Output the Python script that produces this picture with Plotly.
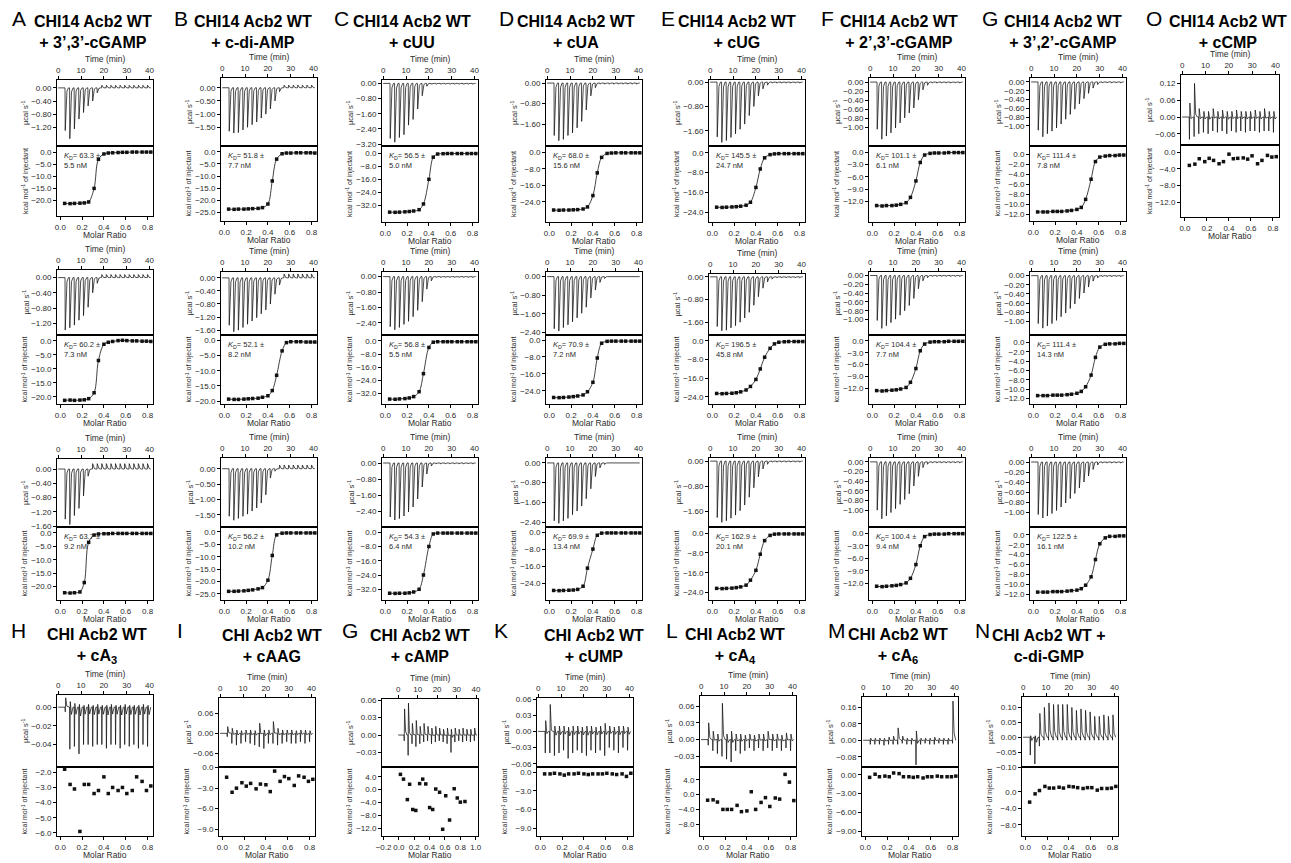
import plotly.graph_objects as go

W, H = 1291, 863

# ---------------- data ----------------
INJ_TIMES = [3, 5, 7, 9, 11, 13, 15, 17, 19, 21, 23, 25, 27, 29, 31, 33, 35, 37, 39]
MOLAR = [0.04, 0.09, 0.13, 0.18, 0.22, 0.26, 0.31, 0.35, 0.40, 0.44, 0.48, 0.53, 0.57, 0.61, 0.66, 0.70, 0.75, 0.79, 0.83]
CAMP_MOLAR = [0.02, 0.06, 0.11, 0.14, 0.18, 0.22, 0.27, 0.31, 0.35, 0.40, 0.44, 0.48, 0.53, 0.57, 0.61, 0.66, 0.72, 0.76, 0.80, 0.86]
TIME_TICKS = [0, 10, 20, 30, 40]
MOLAR_TICKS = [0.0, 0.2, 0.4, 0.6, 0.8]
CAMP_MOLAR_TICKS = [-0.2, 0.0, 0.2, 0.4, 0.6, 0.8, 1.0]

TOP_LETTERS = ["A", "B", "C", "D", "E", "F", "G", "O"]
TOP_LIGANDS = ["+ 3’,3’-cGAMP", "+ c-di-AMP", "+ cUU", "+ cUA", "+ cUG", "+ 2’,3’-cGAMP", "+ 3’,2’-cGAMP", "+ cCMP"]
BOTTOM_LETTERS = ["H", "I", "G", "K", "L", "M", "N"]
BOTTOM_TITLES = ["CHI Acb2 WT<br>+ cA<sub>3</sub>", "CHI Acb2 WT<br>+ cAAG", "CHI Acb2 WT<br>+ cAMP",
                 "CHI Acb2 WT<br>+ cUMP", "CHI Acb2 WT<br>+ cA<sub>4</sub>", "CHI Acb2 WT<br>+ cA<sub>6</sub>",
                 "CHI Acb2 WT +<br>c-di-GMP"]

# raw injection peaks (µcal/s)
A1_PEAKS = [-1.30, -1.55, -1.25, -0.95, -0.75, -0.55, -0.40, -0.15, 0.08, 0.08, 0.08, 0.08, 0.08, 0.08, 0.08, 0.08, 0.08, 0.08, 0.08]
A2_PEAKS = [-1.38, -1.32, -1.25, -1.12, -1.00, -0.78, -0.40, -0.15, 0.08, 0.08, 0.08, 0.08, 0.08, 0.08, 0.08, 0.08, 0.08, 0.08, 0.08]
A3_PEAKS = [-1.40, -1.55, -1.30, -1.10, -0.75, -0.20, 0.15, 0.15, 0.15, 0.15, 0.15, 0.15, 0.15, 0.15, 0.15, 0.15, 0.15, 0.15, 0.15]
B1_PEAKS = [-1.65, -1.72, -1.70, -1.60, -1.50, -1.40, -1.30, -1.15, -1.00, -0.80, -0.50, -0.15, 0.10, 0.10, 0.10, 0.10, 0.10, 0.10, 0.10]
B2_PEAKS = [-1.45, -1.65, -1.60, -1.52, -1.42, -1.32, -1.22, -1.10, -0.98, -0.80, -0.50, -0.22, 0.12, 0.12, 0.12, 0.12, 0.12, 0.12, 0.12]
B3_PEAKS = [-1.55, -1.68, -1.62, -1.55, -1.48, -1.38, -1.28, -1.12, -0.85, -0.30, -0.08, 0.12, 0.12, 0.12, 0.12, 0.12, 0.12, 0.12, 0.12]
C1_PEAKS = [-2.90, -3.10, -2.85, -2.70, -2.20, -1.90, -1.35, -0.65, -0.15, -0.04, -0.04, -0.04, -0.04, -0.04, -0.04, -0.04, -0.04, -0.04, -0.04]
C2_PEAKS = [-2.60, -2.76, -2.64, -2.48, -2.32, -2.08, -1.75, -1.30, -0.65, -0.22, -0.04, -0.04, -0.04, -0.04, -0.04, -0.04, -0.04, -0.04, -0.04]
C3_PEAKS = [-2.70, -2.85, -2.78, -2.65, -2.45, -2.20, -1.80, -1.20, -0.55, -0.15, -0.04, -0.04, -0.04, -0.04, -0.04, -0.04, -0.04, -0.04, -0.04]
D1_PEAKS = [-2.05, -2.25, -2.20, -2.05, -1.95, -1.75, -1.50, -1.05, -0.50, -0.18, -0.04, -0.04, -0.04, -0.04, -0.04, -0.04, -0.04, -0.04, -0.04]
D2_PEAKS = [-2.25, -2.35, -2.20, -2.08, -1.95, -1.78, -1.58, -1.32, -0.92, -0.58, -0.25, -0.08, -0.03, -0.03, -0.03, -0.03, -0.03, -0.03, -0.03]
D3_PEAKS = [-2.35, -2.45, -2.35, -2.25, -2.10, -1.95, -1.75, -1.45, -1.05, -0.55, -0.20, -0.06, -0.03, -0.03, -0.03, -0.03, -0.03, -0.03, -0.03]
E1_PEAKS = [-1.80, -1.98, -1.92, -1.82, -1.70, -1.55, -1.38, -1.10, -0.80, -0.45, -0.22, -0.10, -0.03, -0.03, -0.03, -0.03, -0.03, -0.03, -0.03]
E2_PEAKS = [-1.75, -1.90, -1.88, -1.80, -1.72, -1.60, -1.45, -1.25, -1.00, -0.70, -0.40, -0.18, -0.08, -0.03, -0.03, -0.03, -0.03, -0.03, -0.03]
E3_PEAKS = [-1.80, -1.95, -1.90, -1.82, -1.72, -1.58, -1.40, -1.15, -0.85, -0.50, -0.25, -0.10, -0.03, -0.03, -0.03, -0.03, -0.03, -0.03, -0.03]
F1_PEAKS = [-1.04, -1.26, -1.19, -1.12, -1.01, -0.90, -0.79, -0.68, -0.57, -0.39, -0.17, -0.07, -0.02, -0.02, -0.02, -0.02, -0.02, -0.02, -0.02]
F2_PEAKS = [-1.02, -1.20, -1.14, -1.07, -0.99, -0.90, -0.80, -0.68, -0.52, -0.30, -0.12, -0.05, -0.02, -0.02, -0.02, -0.02, -0.02, -0.02, -0.02]
F3_PEAKS = [-1.00, -1.18, -1.12, -1.05, -0.97, -0.88, -0.78, -0.66, -0.50, -0.30, -0.12, -0.05, -0.02, -0.02, -0.02, -0.02, -0.02, -0.02, -0.02]
G1_PEAKS = [-1.10, -1.25, -1.18, -1.12, -1.05, -0.96, -0.85, -0.74, -0.62, -0.50, -0.38, -0.26, -0.14, -0.06, -0.02, -0.02, -0.02, -0.02, -0.02]
G2_PEAKS = [-1.05, -1.15, -1.10, -1.05, -0.98, -0.90, -0.82, -0.72, -0.62, -0.50, -0.38, -0.25, -0.12, -0.05, -0.02, -0.02, -0.02, -0.02, -0.02]
G3_PEAKS = [-1.05, -1.12, -1.08, -1.03, -0.97, -0.90, -0.82, -0.73, -0.63, -0.52, -0.40, -0.28, -0.15, -0.06, -0.02, -0.02, -0.02, -0.02, -0.02]

# integrated heats (kcal/mol of injectant)
A1_HEAT = [-21.2, -21.3, -21.2, -21.1, -21.0, -20.6, -15.0, -3.0, -0.8, -0.4, -0.3, -0.2, -0.1, -0.1, 0.0, 0.0, 0.0, 0.0, 0.0]
A2_HEAT = [-21.2, -21.1, -21.2, -21.1, -21.0, -20.6, -18.5, -7.0, -1.2, -0.5, -0.2, 0.1, 0.2, 0.1, 0.0, 0.0, -0.1, -0.1, -0.2]
A3_HEAT = [-22.3, -22.4, -22.3, -22.0, -18.5, -3.5, -0.8, -0.4, -0.3, -0.3, -0.2, -0.2, -0.2, -0.2, -0.2, -0.2, -0.2, -0.2, -0.2]
B1_HEAT = [-23.6, -23.7, -23.6, -23.6, -23.5, -23.4, -23.3, -23.0, -21.5, -12.0, -3.0, -0.8, -0.5, -0.5, -0.4, -0.4, -0.4, -0.4, -0.5]
B2_HEAT = [-19.3, -19.4, -19.4, -19.3, -19.2, -19.1, -19.0, -18.7, -18.2, -16.5, -11.5, -3.5, -0.8, -0.5, -0.5, -0.5, -0.6, -0.6, -0.6]
B3_HEAT = [-24.0, -24.0, -23.9, -23.8, -23.6, -23.4, -23.0, -22.5, -19.5, -9.5, -1.2, -0.5, -0.4, -0.4, -0.4, -0.4, -0.4, -0.4, -0.4]
C1_HEAT = [-36.0, -36.1, -36.0, -35.8, -35.6, -35.3, -34.5, -31.0, -16.0, -2.5, -0.6, -0.4, -0.3, -0.3, -0.3, -0.3, -0.3, -0.3, -0.3]
C2_HEAT = [-35.5, -35.6, -35.4, -35.2, -34.8, -34.0, -31.0, -20.0, -4.0, -0.8, -0.5, -0.5, -0.5, -0.5, -0.5, -0.5, -0.5, -0.5, -0.5]
C3_HEAT = [-34.2, -34.3, -34.2, -34.2, -34.0, -33.5, -32.0, -24.0, -8.0, -1.0, -0.5, -0.5, -0.5, -0.5, -0.5, -0.5, -0.5, -0.5, -0.5]
D1_HEAT = [-28.0, -28.1, -28.0, -28.0, -27.9, -27.8, -27.5, -26.5, -21.0, -10.0, -2.5, -0.6, -0.4, -0.3, -0.3, -0.3, -0.3, -0.3, -0.3]
D2_HEAT = [-27.2, -27.3, -27.2, -27.0, -26.8, -26.5, -26.0, -24.5, -20.0, -8.5, -1.5, -0.6, -0.5, -0.5, -0.5, -0.5, -0.5, -0.5, -0.5]
D3_HEAT = [-27.5, -27.6, -27.5, -27.4, -27.3, -27.0, -25.5, -17.0, -8.0, -1.5, -0.5, -0.4, -0.4, -0.4, -0.4, -0.4, -0.4, -0.4, -0.4]
E1_HEAT = [-22.0, -22.1, -22.0, -21.9, -21.8, -21.6, -21.2, -20.0, -14.0, -6.5, -2.0, -0.7, -0.4, -0.3, -0.3, -0.3, -0.3, -0.3, -0.3]
E2_HEAT = [-22.5, -22.6, -22.5, -22.4, -22.2, -21.8, -21.0, -19.5, -16.5, -12.0, -7.0, -3.2, -1.3, -0.6, -0.4, -0.3, -0.3, -0.3, -0.3]
E3_HEAT = [-22.3, -22.4, -22.3, -22.2, -22.0, -21.7, -21.0, -19.0, -15.0, -8.5, -3.0, -0.9, -0.4, -0.3, -0.3, -0.3, -0.3, -0.3, -0.3]
F1_HEAT = [-13.0, -13.1, -13.0, -13.0, -12.9, -12.7, -12.3, -11.0, -7.0, -2.5, -0.7, -0.3, -0.2, -0.2, -0.2, -0.1, -0.1, -0.1, -0.1]
F2_HEAT = [-12.6, -12.7, -12.6, -12.5, -12.4, -12.2, -11.8, -10.5, -7.0, -2.5, -0.8, -0.3, -0.2, -0.2, -0.2, -0.1, -0.1, -0.1, -0.1]
F3_HEAT = [-12.7, -12.8, -12.7, -12.6, -12.5, -12.3, -11.9, -10.8, -7.5, -3.0, -0.8, -0.3, -0.2, -0.2, -0.2, -0.1, -0.1, -0.1, -0.1]
G1_HEAT = [-11.5, -11.5, -11.5, -11.4, -11.4, -11.4, -11.3, -11.2, -11.0, -10.6, -9.0, -5.0, -1.5, -0.6, -0.4, -0.3, -0.3, -0.2, -0.2]
G2_HEAT = [-11.4, -11.4, -11.4, -11.3, -11.3, -11.3, -11.2, -11.1, -10.9, -10.5, -9.5, -7.0, -3.2, -1.0, -0.4, -0.3, -0.3, -0.2, -0.2]
G3_HEAT = [-11.6, -11.6, -11.6, -11.5, -11.5, -11.5, -11.4, -11.3, -11.2, -10.9, -10.2, -8.5, -5.0, -1.8, -0.6, -0.3, -0.3, -0.2, -0.2]

KD = {
    "A1": ("63.3", "5.5"), "A2": ("60.2", "7.3"), "A3": ("63.7", "9.2"),
    "B1": ("51.8", "7.7"), "B2": ("52.1", "8.2"), "B3": ("56.2", "10.2"),
    "C1": ("56.5", "5.0"), "C2": ("56.8", "5.5"), "C3": ("54.3", "6.4"),
    "D1": ("68.0", "15.6"), "D2": ("70.9", "7.2"), "D3": ("69.9", "13.4"),
    "E1": ("145.5", "24.7"), "E2": ("196.5", "45.8"), "E3": ("162.9", "20.1"),
    "F1": ("101.1", "6.1"), "F2": ("104.4", "7.7"), "F3": ("100.4", "9.4"),
    "G1": ("111.4", "7.8"), "G2": ("111.4", "14.3"), "G3": ("122.5", "16.1"),
}

# non-binding panels: per-injection low / high excursions of raw trace
O_LO = [-0.08, -0.07, -0.06, -0.055, -0.06, -0.05, -0.055, -0.05, -0.06, -0.05, -0.055, -0.05, -0.055, -0.05, -0.05, -0.055, -0.05, -0.05, -0.055]
O_HI = [0.05, 0.12, 0.03, 0.02, 0.02, 0.03, 0.02, 0.025, 0.02, 0.02, 0.025, 0.02, 0.02, 0.02, 0.025, 0.02, 0.03, 0.02, 0.02]
O_HEAT = [-3.2, -2.9, -1.6, -2.3, -1.5, -2.0, -2.8, -2.3, -0.5, -1.6, -1.5, -1.4, -1.7, -0.9, -2.8, -2.0, -0.8, -1.2, -1.1]
H_LO = [-0.005, -0.045, -0.042, -0.050, -0.040, -0.040, -0.042, -0.040, -0.040, -0.044, -0.040, -0.040, -0.044, -0.040, -0.042, -0.040, -0.044, -0.040, -0.042]
H_HI = [0.010, 0.006, 0.004, 0.003, 0.002, 0.003, 0.002, 0.003, 0.002, 0.002, 0.003, 0.002, 0.002, 0.003, 0.002, 0.002, 0.002, 0.003, 0.002]
H_HEAT = [-1.8, -2.8, -3.1, -5.9, -2.8, -2.8, -3.4, -3.2, -2.3, -3.4, -3.0, -3.2, -3.0, -3.4, -3.2, -2.3, -2.6, -3.2, -2.9]
I_LO = [-0.01, -0.03, -0.035, -0.03, -0.025, -0.03, -0.035, -0.04, -0.045, -0.03, -0.03, -0.035, -0.03, -0.025, -0.03, -0.03, -0.025, -0.03, -0.025]
I_HI = [0.02, 0.015, 0.01, 0.008, 0.01, 0.01, 0.008, 0.03, 0.01, 0.01, 0.035, 0.015, 0.01, 0.01, 0.01, 0.008, 0.01, 0.01, 0.008]
I_HEAT = [-1.4, -3.6, -3.0, -2.2, -2.7, -2.3, -3.1, -2.4, -2.5, -3.5, -0.5, -2.0, -1.3, -1.6, -2.6, -1.2, -1.4, -2.0, -1.7]
CAMP_LO = [-0.01, -0.035, -0.015, -0.02, -0.015, -0.012, -0.01, -0.015, -0.012, -0.01, -0.012, -0.015, -0.03, -0.012, -0.01, -0.012, -0.01, -0.012, -0.01]
CAMP_HI = [0.045, 0.055, 0.02, 0.025, 0.015, 0.02, 0.015, 0.012, 0.015, 0.012, 0.01, 0.012, 0.01, 0.012, 0.01, 0.012, 0.01, 0.01, 0.012]
CAMP_HEAT = [4.8, 3.3, -3.1, 1.7, -6.2, -6.5, 1.9, 3.3, 1.8, -5.6, -6.2, 0.2, -0.8, -12.4, -1.9, -9.5, 0.3, -2.6, -3.9, -3.7]
K_LO = [-0.04, -0.04, -0.045, -0.04, -0.035, -0.05, -0.04, -0.035, -0.04, -0.045, -0.035, -0.04, -0.035, -0.045, -0.03, -0.035, -0.04, -0.03, -0.035]
K_HI = [0.02, 0.05, 0.01, 0.01, 0.01, 0.008, 0.01, 0.01, 0.008, 0.01, 0.01, 0.008, 0.01, 0.015, 0.01, 0.008, 0.01, 0.01, 0.008]
K_HEAT = [-0.3, -0.3, -0.2, -0.3, -0.5, -0.3, -0.3, -0.2, -0.3, -0.4, -0.3, -0.3, -0.3, -0.2, -0.3, -0.4, -0.3, -0.7, -0.2]
L_LO = [-0.01, -0.02, -0.025, -0.03, -0.035, -0.04, -0.02, -0.025, -0.02, -0.015, -0.02, -0.015, -0.02, -0.015, -0.02, -0.015, -0.02, -0.015, -0.02]
L_HI = [0.03, 0.015, 0.01, 0.065, 0.01, 0.015, 0.01, 0.01, 0.008, 0.01, 0.008, 0.01, 0.01, 0.015, 0.01, 0.01, 0.008, 0.012, 0.01]
L_HEAT = [-1.5, -1.4, -2.0, -4.0, -4.0, -4.0, -2.9, -4.6, -4.4, 0.8, -4.0, -2.1, -0.8, -3.2, -0.9, -1.2, 5.5, 3.4, -1.6]
M_LO = [-0.02, -0.02, -0.02, -0.025, -0.02, -0.02, -0.02, -0.015, -0.02, -0.02, -0.12, -0.02, -0.015, -0.02, -0.02, -0.015, -0.02, -0.02, -0.015]
M_HI = [0.01, 0.01, 0.01, 0.01, 0.015, 0.02, 0.06, 0.02, 0.01, 0.01, 0.045, 0.01, 0.01, 0.01, 0.015, 0.01, 0.01, 0.01, 0.19]
M_HEAT = [-0.4, 0.1, -0.3, -0.2, -0.3, 0.3, 0.2, -0.3, -0.3, -0.4, -0.3, -0.5, -0.3, -0.3, -0.2, -0.3, -0.3, -0.3, -0.2]
N_LO = [-0.06, -0.09, -0.03, -0.01, -0.01, -0.01, -0.01, -0.01, -0.01, -0.01, -0.01, -0.01, -0.01, -0.01, -0.01, -0.01, -0.01, -0.01, -0.01]
N_HI = [0.005, 0.005, 0.08, 0.10, 0.115, 0.11, 0.11, 0.11, 0.11, 0.10, 0.09, 0.095, 0.09, 0.085, 0.07, 0.07, 0.075, 0.07, 0.075]
N_HEAT = [-2.5, -0.5, 0.3, 1.3, 0.9, 0.9, 1.1, 0.9, 1.3, 1.2, 1.0, 0.8, 1.0, 1.0, 0.4, 0.8, 0.8, 0.9, 1.3]

# ---------------- layout config ----------------
FONT = "Liberation Sans, Arial, sans-serif"
TXT = "#2a2a2a"
TOP_X = [57, 221, 382, 546, 709, 869, 1030]
BOX_W = 96
# (top, split, bottom) per row, per column
ROW_TOP = [[80, 78, 80, 80, 80, 78, 78], [270, 272, 272, 272, 274, 272, 272], [459, 458, 458, 458, 458, 458, 458]]
ROW_SPLIT = [146, 335, 527]
ROW_BOT = [[216, 221, 222, 222, 222, 222, 221], [404, 404, 404, 404, 404, 404, 404], [600, 600, 600, 600, 600, 600, 600]]
O_GEOM = (1181, 1279, 75, 145, 217)
BOTTOM_X = [57, 219, 382, 537, 700, 862, 1022]
BOTTOM_TOP = [695, 698, 699, 698, 696, 697, 697]
BOTTOM_SPLIT, BOTTOM_BOT = 767, 836
TOP_LETTER_X = [10, 172, 332, 497, 659, 819, 980, 1144]
TOP_TITLE_CX = [93, 253, 412, 576, 737, 899, 1063, 1228]
BOT_LETTER_X = [9, 175, 340, 492, 664, 826, 973]
BOT_TITLE_CX = [97, 272, 420, 594, 735, 898, 1049]

COL_CFG = {  # raw tick sets per row, raw fmt, int ticks, int fmt, raw ranges per row, int ranges per row
    "A": ([[0, -0.4, -0.8, -1.2], [0, -0.4, -0.8, -1.2], [0, -0.4, -0.8, -1.2, -1.6]], ".2f", [0, -5, -10, -15, -20], ".1f",
          [(-1.77, 0.24), (-1.51, 0.20), (-1.62, 0.28)], [(-26.4, 2.5), (-22.5, 2.1), (-25.0, 2.2)]),
    "B": ([[0, -0.5, -1.0, -1.5], [0, -0.4, -0.8, -1.2, -1.6], [0, -0.5, -1.0, -1.5]], ".2f", [0, -5, -10, -15, -20, -25], ".1f",
          [(-2.21, 0.37), (-1.75, 0.18), (-1.90, 0.35)], [(-28.5, 2.4), (-20.9, 1.7), (-27.5, 2.0)]),
    "C": ([[0, -0.8, -1.6, -2.4, -3.2], [0, -0.8, -1.6, -2.4], [0, -0.8, -1.6, -2.4]], ".2f", [0, -8, -16, -24, -32], ".1f",
          [(-3.30, 0.18), (-3.03, 0.24), (-3.20, 0.25)], [(-42.0, 4.3), (-38.5, 3.6), (-38.0, 2.9)]),
    "D": ([[0, -0.8, -1.6], [0, -0.8, -1.6, -2.4], [0, -0.8, -1.6, -2.4]], ".2f", [0, -8, -16, -24], ".1f",
          [(-2.46, 0.12), (-2.52, 0.20), (-2.60, 0.20)], [(-33.8, 3.0), (-30.3, 2.4), (-32.0, 2.4)]),
    "E": ([[0, -0.8, -1.6]] * 3, ".2f", [0, -8, -16, -24], ".1f",
          [(-2.10, 0.07), (-2.05, 0.10), (-2.10, 0.10)], [(-28.0, 2.8), (-27.0, 2.5), (-27.0, 2.5)]),
    "F": ([[0, -0.2, -0.4, -0.6, -0.8, -1.0]] * 3, ".2f", [0, -3, -6, -9, -12], ".1f",
          [(-1.41, 0.09), (-1.35, 0.08), (-1.35, 0.08)], [(-17.0, 1.5), (-16.0, 1.5), (-16.0, 1.5)]),
    "G": ([[0, -0.2, -0.4, -0.6, -0.8, -1.0]] * 3, ".2f", [0, -2, -4, -6, -8, -10, -12], ".1f",
          [(-1.46, 0.09), (-1.30, 0.08), (-1.30, 0.08)], [(-13.3, 1.6), (-13.2, 1.6), (-13.2, 1.6)]),
}

layout = {}
annotations = []
traces = []
counter = [0]


def ax_name(kind, i):
    return kind + ("axis" if i == 1 else "axis%d" % i)


def ax_ref(kind, i):
    return kind if i == 1 else "%s%d" % (kind, i)


def axis(rng, tickvals, fmt, anchor, side, domain):
    return dict(range=list(rng), tickvals=tickvals, tickformat=fmt, anchor=anchor, side=side,
                domain=domain, showline=True, linecolor="black", linewidth=1, mirror=True,
                ticks="outside", ticklen=3, tickwidth=0.8, tickcolor="black", showgrid=False,
                zeroline=False, tickfont=dict(family=FONT, size=8, color=TXT), tickangle=0,
                automargin=False, fixedrange=True)


def spike_path(times, peaks):
    xs, ys = [0.0], [0.0]
    for t, h in zip(times, peaks):
        xs += [t, t + 0.1, t + 0.45, t + 0.85, t + 1.5]
        ys += [0, h, 0.25 * h, 0.08 * h, 0]
    xs.append(40.5)
    ys.append(0)
    return xs, ys


def noisy_path(times, lo, hi):
    xs, ys = [0.0], [0.0]
    for t, l, u in zip(times, lo, hi):
        xs += [t, t + 0.12, t + 0.3, t + 0.8, t + 1.5]
        ys += [0, l, u, 0.2 * (l + u), 0]
    xs.append(40.5)
    ys.append(0)
    return xs, ys


def ann(x, y, text, size, **kw):
    d = dict(x=x / W, y=1 - y / H, xref="paper", yref="paper", text=text, showarrow=False,
             font=dict(family=FONT, size=size, color=kw.pop("color", TXT)),
             xanchor=kw.pop("xanchor", "center"), yanchor=kw.pop("yanchor", "middle"))
    d.update(kw)
    annotations.append(d)


def add_panel(geom, raw_xy, raw_rng, raw_ticks, raw_fmt, heat_x, heat_y, int_rng, int_ticks,
              int_fmt, kd=None, fit=True, t_rng=(-0.5, 41.5), m_rng=(-0.03, 0.85),
              m_ticks=MOLAR_TICKS):
    xl, xr, yt, ys, yb = geom
    counter[0] += 1
    a = counter[0]
    counter[0] += 1
    b = counter[0]
    xd = [xl / W, xr / W]
    layout[ax_name("x", a)] = axis(t_rng, TIME_TICKS, "d", ax_ref("y", a), "top", xd)
    layout[ax_name("y", a)] = axis(raw_rng, raw_ticks, raw_fmt, ax_ref("x", a), "left",
                                   [1 - ys / H, 1 - yt / H])
    layout[ax_name("x", b)] = axis(m_rng, m_ticks, ".1f", ax_ref("y", b), "bottom", xd)
    layout[ax_name("y", b)] = axis(int_rng, int_ticks, int_fmt, ax_ref("x", b), "left",
                                   [1 - yb / H, 1 - ys / H])
    traces.append(go.Scatter(x=raw_xy[0], y=raw_xy[1], mode="lines",
                             line=dict(color="#111111", width=0.75),
                             xaxis=ax_ref("x", a), yaxis=ax_ref("y", a), hoverinfo="skip"))
    if fit:
        traces.append(go.Scatter(x=heat_x, y=heat_y, mode="lines",
                                 line=dict(color="#111111", width=0.8, shape="spline"),
                                 xaxis=ax_ref("x", b), yaxis=ax_ref("y", b), hoverinfo="skip"))
    traces.append(go.Scatter(x=heat_x, y=heat_y, mode="markers",
                             marker=dict(symbol="square", size=3.5, color="#111111"),
                             xaxis=ax_ref("x", b), yaxis=ax_ref("y", b), hoverinfo="skip"))
    cx = (xl + xr) / 2
    ann(cx, yt - 21, "Time (min)", 8.5)
    ann(cx, yb + 19, "Molar Ratio", 8.5)
    ann(xl - 32, (yt + ys) / 2, "µcal s<sup>-1</sup>", 7.5, textangle=-90)
    ann(xl - 32, (ys + yb) / 2, "kcal mol<sup>-1</sup> of injectant", 7, textangle=-90)
    if kd:
        ann(xl + 5, ys + 3, "<i>K</i><sub>D</sub>= %s ±<br>%s nM" % kd, 7.5,
            xanchor="left", yanchor="top", align="left")


# ---------------- top block (A-G, three replicates) ----------------
DATA = globals()
for ci, col in enumerate(["A", "B", "C", "D", "E", "F", "G"]):
    rticks, rfmt, iticks, ifmt, rr, ir = COL_CFG[col]
    for r in range(3):
        key = "%s%d" % (col, r + 1)
        geom = (TOP_X[ci], TOP_X[ci] + BOX_W, ROW_TOP[r][ci], ROW_SPLIT[r], ROW_BOT[r][ci])
        add_panel(geom, spike_path(INJ_TIMES, DATA[key + "_PEAKS"]), rr[r], rticks[r], rfmt,
                  MOLAR, DATA[key + "_HEAT"], ir[r], iticks, ifmt, kd=KD[key])

# O panel
add_panel(O_GEOM, noisy_path(INJ_TIMES, O_LO, O_HI), (-0.10, 0.15), [0.12, 0.06, 0, -0.06], ".2f",
          MOLAR, O_HEAT, (-15.6, 1.7), [0, -4, -8, -12], ".1f", fit=False, m_rng=(-0.036, 0.855))

# ---------------- bottom row ----------------
BOTTOM_SPECS = [
    (H_LO, H_HI, (-0.064, 0.013), [0, -0.02, -0.04], MOLAR, H_HEAT, (-6.2, -1.65), [-2, -3, -4, -5, -6], ".1f"),
    (I_LO, I_HI, (-0.10, 0.105), [0.06, 0, -0.06], MOLAR, I_HEAT, (-10.0, 0.1), [0, -3, -6, -9], ".1f"),
    (CAMP_LO, CAMP_HI, (-0.055, 0.062), [0.06, 0.03, 0, -0.03], CAMP_MOLAR, CAMP_HEAT, (-14.5, 7.1), [4, 0, -4, -8, -12], ".1f"),
    (K_LO, K_HI, (-0.066, 0.062), [0.06, 0.03, 0, -0.03, -0.06], MOLAR, K_HEAT, (-10.2, 0.8), [0, -3, -6, -9], ".1f"),
    (L_LO, L_HI, (-0.049, 0.078), [0.06, 0.03, 0, -0.03], MOLAR, L_HEAT, (-11.2, 7.5), [4, 0, -4, -8], ".1f"),
    (M_LO, M_HI, (-0.13, 0.21), [0.16, 0.08, 0, -0.08], MOLAR, M_HEAT, (-9.8, 1.26), [0, -3, -6, -9], ".2f"),
    (N_LO, N_HI, (-0.10, 0.135), [0.10, 0.05, 0, -0.05, -0.10], MOLAR, N_HEAT, (-10.7, 6.0), [0, -4, -8], ".1f"),
]
for i, (lo, hi, rr, rt, mx, hy, ir, it, ifmt) in enumerate(BOTTOM_SPECS):
    geom = (BOTTOM_X[i], BOTTOM_X[i] + BOX_W, BOTTOM_TOP[i], BOTTOM_SPLIT, BOTTOM_BOT)
    kw = {}
    if i == 2:
        kw = dict(t_rng=(-8.3, 41.0), m_rng=(-0.22, 1.03), m_ticks=CAMP_MOLAR_TICKS)
    add_panel(geom, noisy_path(INJ_TIMES, lo, hi), rr, rt, ".2f", mx, hy, ir, it, ifmt, fit=False, **kw)

# ---------------- titles ----------------
for i in range(8):
    ann(TOP_LETTER_X[i], 18, TOP_LETTERS[i], 21, color="black", xanchor="left")
    ann(TOP_TITLE_CX[i], 32, "<b>CHI14 Acb2 WT<br>%s</b>" % TOP_LIGANDS[i], 16, color="black")
for i in range(7):
    ann(BOT_LETTER_X[i], 630, BOTTOM_LETTERS[i], 21, color="black", xanchor="left")
    ann(BOT_TITLE_CX[i], 646, "<b>%s</b>" % BOTTOM_TITLES[i], 16, color="black")

fig = go.Figure(data=traces)
fig.update_layout(width=W, height=H, margin=dict(l=0, r=0, t=0, b=0), template="none",
                  paper_bgcolor="white", plot_bgcolor="white", showlegend=False,
                  font=dict(family=FONT, color=TXT), annotations=annotations, **layout)
fig.write_html("out.html")
